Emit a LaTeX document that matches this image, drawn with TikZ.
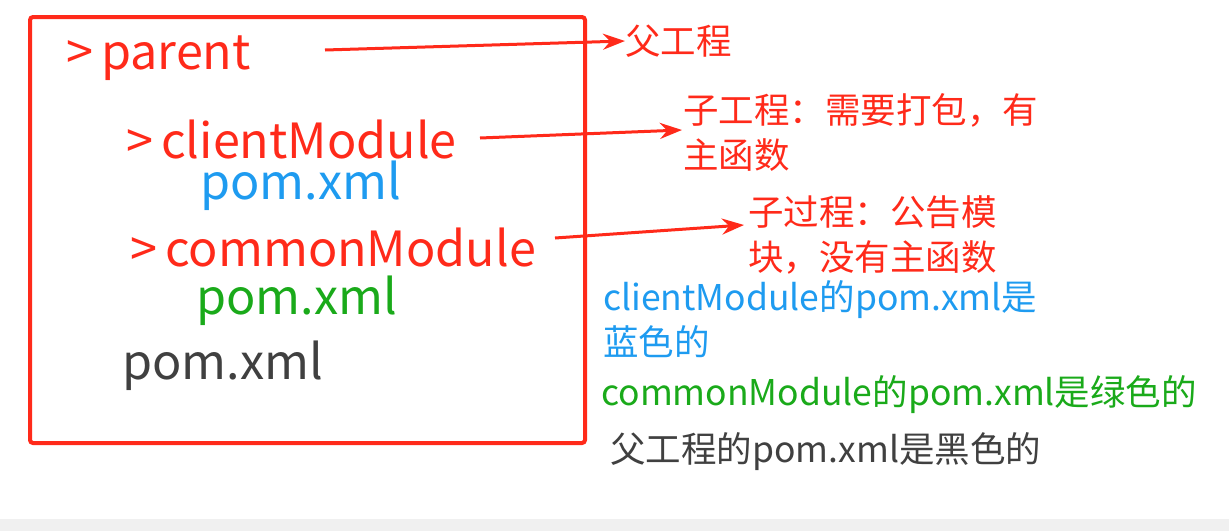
\documentclass[tikz,border=0pt]{standalone}
\usepackage{fontspec}
\setmainfont{Noto Sans CJK SC}
\usetikzlibrary{arrows.meta}
\definecolor{rd}{HTML}{FF2A1A}
\definecolor{bl}{HTML}{1E9BF0}
\definecolor{gr}{HTML}{1AAA1A}
\definecolor{dg}{HTML}{404040}
\tikzset{
 big/.style={anchor=west,inner sep=0pt,font=\fontsize{48.5}{52}\selectfont},
 sm/.style={anchor=west,inner sep=0pt,font=\fontsize{35.5}{45}\selectfont,align=left},
 arr/.style={rd,line width=3pt,-{Stealth[length=22pt,width=16pt]}}
}
\begin{document}
\begin{tikzpicture}[x=1pt,y=-1pt]
\useasboundingbox (0,0) rectangle (1229,531);
\fill[black!6] (0,519) rectangle (1229,531);
\draw[rd,line width=4pt,rounded corners=3pt] (30,17) rectangle (585,443);
\node[big,rd] (p) at (66,58) {>\,parent};
\node[big,rd] (c) at (126,140) {>\,clientModule};
\node[big,bl] (cp) at (200,186) {pom.xml};
\node[big,rd] (m) at (130,248) {>\,commonModule};
\node[big,gr] (mp) at (196,301) {pom.xml};
\node[big,dg] (pp) at (122,366) {pom.xml};
\node[sm,rd] (t1) at (625,41) {父工程};
\node[sm,rd] (t2) at (683,132) {子工程：需要打包，有\\主函数};
\node[sm,rd] (t3) at (748,235) {子过程：公告模\\块，没有主函数};
\node[sm,bl] (t4) at (603,319) {clientModule的pom.xml是\\蓝色的};
\node[sm,gr] (t5) at (601,395) {commonModule的pom.xml是绿色的};
\node[sm,dg] (t6) at (610,452) {父工程的pom.xml是黑色的};
\coordinate (a1) at (325,50);
\coordinate (a2) at (480,138);
\coordinate (a3) at (555,238);
\draw[arr] (a1) -- (t1.west);
\draw[arr] (a2) -- (682,130);
\draw[arr] (a3) -- (744,225);
\end{tikzpicture}
\end{document}
